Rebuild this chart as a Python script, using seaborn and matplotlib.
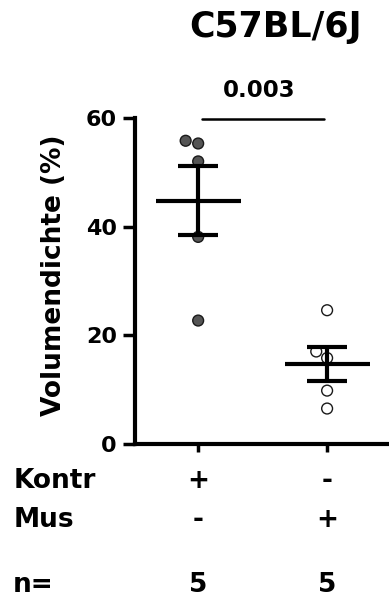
import numpy as np
import pandas as pd
import seaborn as sns
import matplotlib.pyplot as plt

# values
kontr = [55.8, 55.3, 52.0, 38.1, 22.7]
mus = [24.6, 17.0, 15.8, 9.8, 6.5]
groups = ["Kontr", "Mus"]
row_labels = ["Kontr", "Mus", "n="]
row_marks = [["+", "-"], ["-", "+"], ["5", "5"]]
p_value = "0.003"

df = pd.DataFrame({
    "group": ["Kontr"] * len(kontr) + ["Mus"] * len(mus),
    "value": kontr + mus,
})

sns.set_style("ticks", {"axes.edgecolor": "black", "text.color": "black",
                        "xtick.color": "black", "ytick.color": "black"})
plt.rcParams["font.family"] = ["DejaVu Sans"]
plt.rcParams["font.weight"] = "bold"

fig = plt.figure(figsize=(3.89, 6.08), dpi=100)
ax = fig.add_axes([0.347, 0.270, 0.653, 0.536])

# individual animals
sns.swarmplot(data=df, x="group", y="value", hue="group",
              palette={"Kontr": "#555555", "Mus": "white"},
              size=7.8, linewidth=1.0, edgecolor="#1a1a1a",
              legend=False, ax=ax, zorder=2)

# mean and SEM
for i, vals in enumerate([kontr, mus]):
    v = np.array(vals)
    m = v.mean()
    sem = v.std(ddof=1) / np.sqrt(len(v))
    ax.hlines(m, i - 0.33, i + 0.33, color="black", lw=3, zorder=3)
    ax.hlines([m - sem, m + sem], i - 0.155, i + 0.155, color="black", lw=3, zorder=3)
    ax.vlines(i, m - sem, m + sem, color="black", lw=3, zorder=3)

ax.set_xlim(-0.49, 1.48)
ax.set_ylim(0, 60)
ax.set_yticks([0, 20, 40, 60])
ax.tick_params(axis="y", labelsize=16, width=2.5, length=9, pad=4)
ax.tick_params(axis="x", width=2.5, length=6, labelbottom=False)
for lab in ax.get_yticklabels():
    lab.set_fontweight("bold")
for s in ["left", "bottom"]:
    ax.spines[s].set_linewidth(3)
sns.despine(ax=ax)
ax.set_xlabel("")
ax.set_ylabel("")
fig.text(0.139, 0.548, "Volumendichte (%)", rotation=90, ha="center", va="center",
         fontsize=19, fontweight="bold")

# significance bar
ax.plot([0.03, 0.977], [59.8, 59.8], color="black", lw=1.8, clip_on=False)
ax.text(0.47, 65.1, p_value, ha="center", va="center", fontsize=16.5, fontweight="bold")

fig.text(0.708, 0.955, "C57BL/6J", ha="center", va="center", fontsize=25, fontweight="bold")

# condition table under the axis
row_y = [0.197, 0.134, 0.026]
for lab, marks, y in zip(row_labels, row_marks, row_y):
    fig.text(0.034, y, lab, ha="left", va="baseline", fontsize=19, fontweight="bold")
    for i, mk in enumerate(marks):
        xf = ax.transData.transform((i, 0))[0] / fig.bbox.width
        fig.text(xf, y, mk, ha="center", va="baseline", fontsize=19, fontweight="bold")

fig.savefig("out.png", dpi=100)
